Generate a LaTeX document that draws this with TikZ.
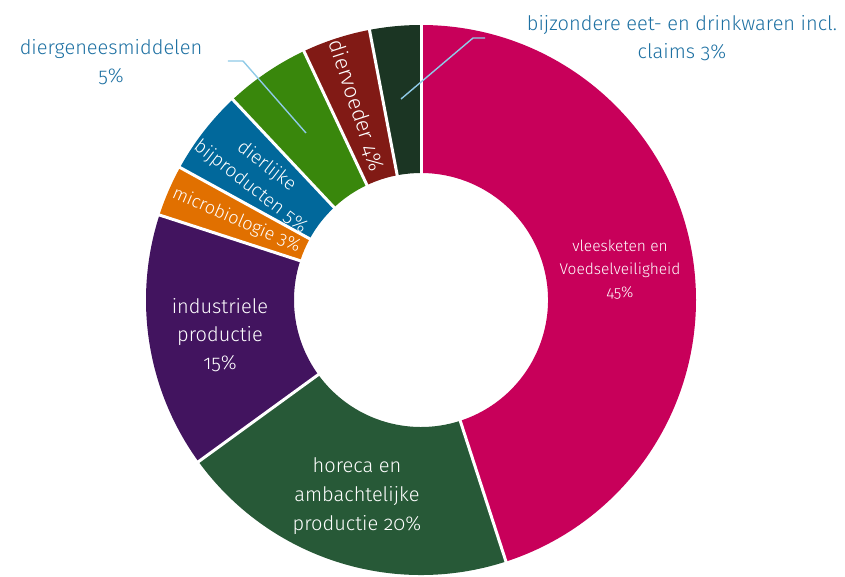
\documentclass[tikz,border=0pt]{standalone}
\usepackage{fontspec}
\setmainfont{Fira Sans Light}[Numbers=OldStyle]
\definecolor{cpink}{HTML}{C8005A}
\definecolor{cdgreen}{HTML}{275937}
\definecolor{cpurple}{HTML}{42145F}
\definecolor{corange}{HTML}{E17000}
\definecolor{cblue}{HTML}{01689B}
\definecolor{cgreen}{HTML}{39870C}
\definecolor{cdred}{HTML}{811A15}
\definecolor{cblack}{HTML}{1B3523}
\definecolor{ctext}{HTML}{1D70A2}
\definecolor{cleader}{HTML}{8FCAE7}
\newcommand\ringsector[3]{\fill[#3] (#1:275) arc[start angle=#1,end angle=#2,radius=275] -- (#2:127) arc[start angle=#2,end angle=#1,radius=127] -- cycle;}
\tikzset{
  inlabel/.style={text=white, align=center, inner sep=0pt},
  outlabel/.style={text=ctext, align=center, inner sep=0pt, font=\fontsize{20}{28}\selectfont},
  leader/.style={draw=cleader, line width=1.4pt},
  sep/.style={draw=white, line width=3pt}
}
\begin{document}
\begin{tikzpicture}[x=1pt,y=1pt]
\useasboundingbox (-421,-276) rectangle (424,300);
\ringsector{90}{-72}{cpink}
\ringsector{-72}{-144}{cdgreen}
\ringsector{-144}{-198}{cpurple}
\ringsector{162}{151.2}{corange}
\ringsector{151.2}{133.2}{cblue}
\ringsector{133.2}{115.2}{cgreen}
\ringsector{115.2}{100.8}{cdred}
\ringsector{100.8}{90}{cblack}
\foreach \a in {90,-72,-144,162,151.2,133.2,115.2,100.8}
  \draw[sep] (\a:124) -- (\a:278);
% inner labels
\node[inlabel, font=\fontsize{15.5}{23}\selectfont] (vlees) at (199,30) {vleesketen en\\Voedselveiligheid\\45\%};
\node[inlabel, font=\fontsize{20}{29}\selectfont] (horeca) at (-64,-196) {horeca en\\ambachtelijke\\productie 20\%};
\node[inlabel, font=\fontsize{20}{28}\selectfont] (indus) at (-201,-35) {industriele\\productie\\15\%};
\node[inlabel, font=\fontsize{18}{22}\selectfont, rotate=-23.4] (micro) at (156.6:201) {microbiologie 3\%};
\node[inlabel, font=\fontsize{19}{26}\selectfont, rotate=-37.8] (dierl) at (142.8:204) {dierlijke\\bijproducten 5\%};
\node[inlabel, font=\fontsize{21.5}{24}\selectfont, rotate=-72] (voeder) at (108.3:205) {diervoeder 4\%};
% outer labels
\node[outlabel] (genees) at (-310,238) {diergeneesmiddelen\\5\%};
\node[outlabel] (bijz) at (261,261.5) {bijzondere eet- en drinkwaren incl.\\claims 3\%};
% leaders
\coordinate (g1) at (-193,239);
\coordinate (g2) at (-178,239);
\coordinate (g3) at (-115,167);
\coordinate (b1) at (64,262);
\coordinate (b2) at (52,262);
\coordinate (b3) at (-20,201);
\draw[leader] (g1) -- (g2) -- (g3);
\draw[leader] (b1) -- (b2) -- (b3);
\end{tikzpicture}
\end{document}
